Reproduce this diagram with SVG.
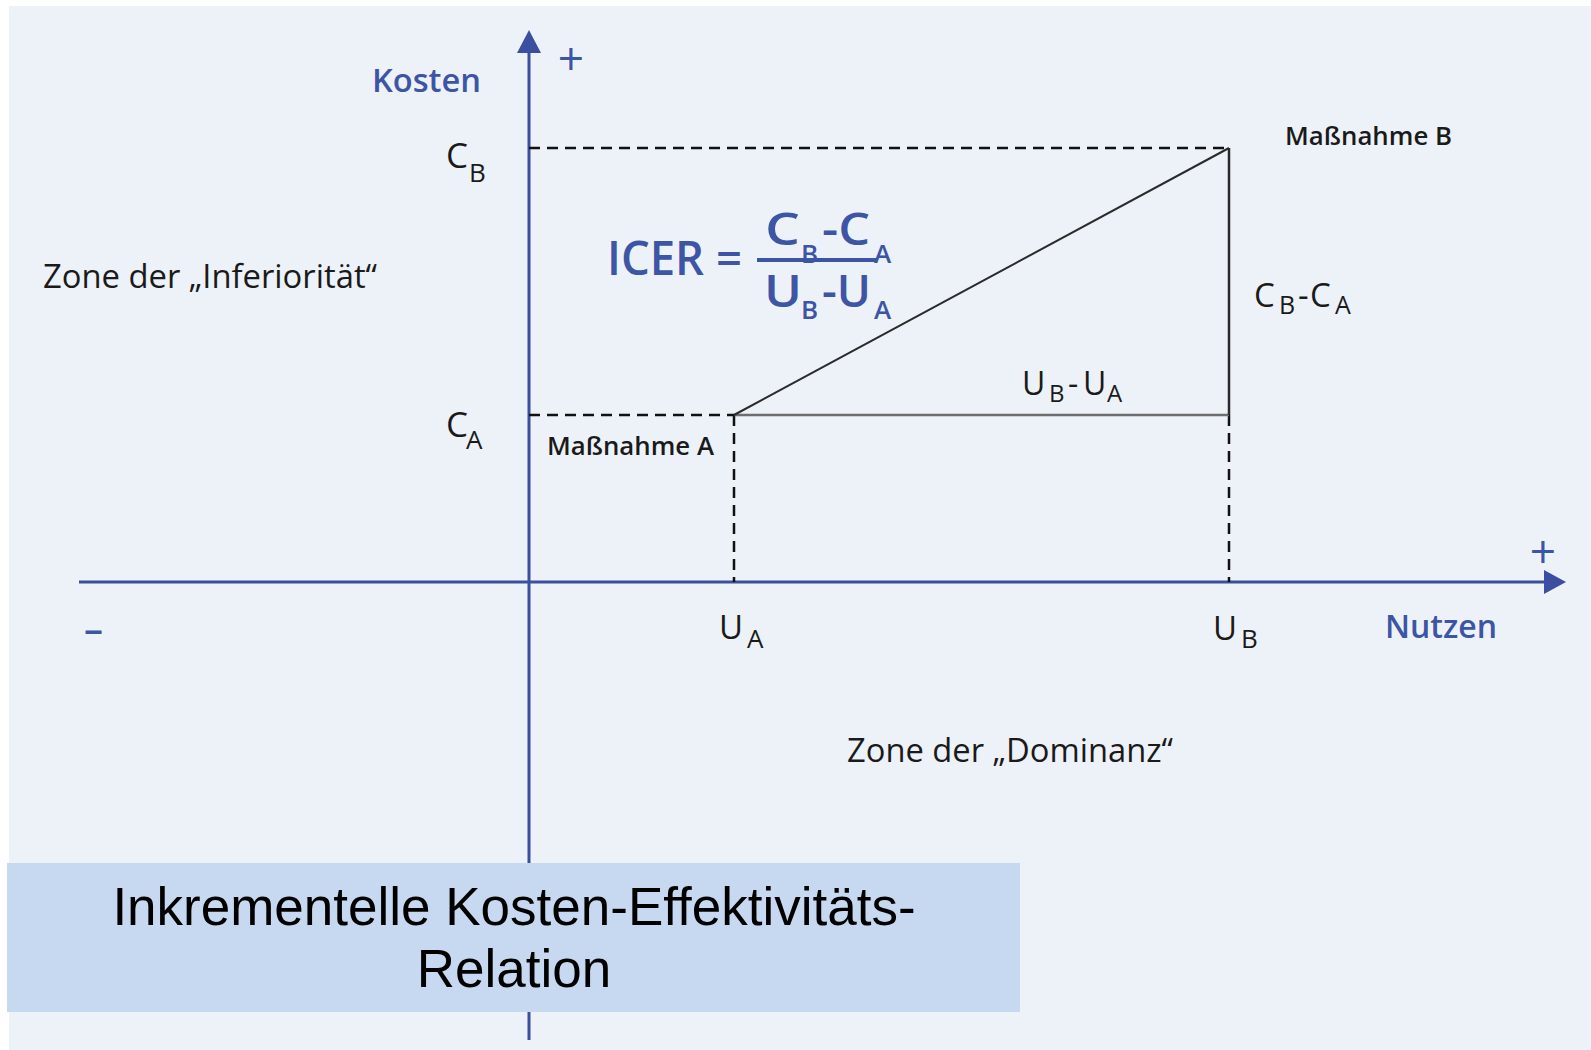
<svg xmlns="http://www.w3.org/2000/svg" width="1591" height="1050" viewBox="0 0 1591 1050">
<style>
.bg{fill:#EDF2F9}
.axis{stroke:#3B4EA0;stroke-width:3;fill:none}
.arrow{fill:#3B4EA0}
.dash{stroke:#111;stroke-width:2.5;stroke-dasharray:11 7;fill:none}
.solid{stroke:#2a2a2a;stroke-width:2;fill:none}
.gray{stroke:#6e6e6e;stroke-width:2.5;fill:none}
.t{font-family:"Open Sans","Liberation Sans",sans-serif;fill:#1a1a1a;font-weight:500}
.blue{fill:#3D55A5}
.sb{font-weight:600}
.cap{font-family:"Liberation Sans",Arial,sans-serif;font-size:53px;fill:#000;text-anchor:middle}
</style>
<rect class="bg" x="9" y="6" width="1582" height="1044"/>
<g id="connectors">
  <line class="axis" x1="529" y1="1040" x2="529" y2="50"/>
  <polygon class="arrow" points="529,30 541,53 517,53"/>
  <line class="axis" x1="79" y1="582" x2="1547" y2="582"/>
  <polygon class="arrow" points="1566,582 1544,570 1544,594"/>
  <line class="dash" x1="529" y1="148" x2="1229" y2="148"/>
  <line class="dash" x1="529" y1="415" x2="734" y2="415"/>
  <line class="dash" x1="734" y1="415" x2="734" y2="582"/>
  <line class="dash" x1="1229" y1="415" x2="1229" y2="582"/>
  <line class="gray" x1="734" y1="415" x2="1229" y2="415"/>
  <line class="solid" x1="1229" y1="148" x2="1229" y2="415" style="stroke-width:2.5"/>
  <line class="solid" x1="734" y1="415" x2="1229" y2="148"/>
</g>
<g id="axis-labels">
  <text class="t blue sb" x="372" y="92" font-size="32" textLength="109" lengthAdjust="spacingAndGlyphs">Kosten</text>
  <text class="t blue" x="571" y="75" font-size="46" text-anchor="middle" font-weight="400">+</text>
  <text class="t blue sb" x="1385" y="638" font-size="32" textLength="112" lengthAdjust="spacingAndGlyphs">Nutzen</text>
  <text class="t blue" x="1543" y="568" font-size="46" text-anchor="middle" font-weight="400">+</text>
  <text class="t blue sb" x="93.5" y="642" font-size="38" text-anchor="middle">–</text>
</g>
<g id="tick-CB">
  <text class="t" x="446" y="168" font-size="35">C</text>
  <text class="t" x="469" y="182" font-size="26">B</text>
</g>
<g id="tick-CA">
  <text class="t" x="446" y="437" font-size="35">C</text>
  <text class="t" x="466" y="449" font-size="26">A</text>
</g>
<g id="tick-UA">
  <text class="t" x="719" y="639" font-size="33">U</text>
  <text class="t" x="747" y="648" font-size="26">A</text>
</g>
<g id="tick-UB">
  <text class="t" x="1213" y="640" font-size="33">U</text>
  <text class="t" x="1241" y="648" font-size="26">B</text>
</g>
<g id="zone-inferior">
  <text class="t" x="43" y="288" font-size="33" textLength="334" lengthAdjust="spacingAndGlyphs" font-weight="400">Zone der „Inferiorität“</text>
</g>
<g id="zone-dominant">
  <text class="t" x="847" y="762" font-size="33" textLength="326" lengthAdjust="spacingAndGlyphs" font-weight="400">Zone der „Dominanz“</text>
</g>
<g id="massnahme-A">
  <text class="t sb" x="547" y="455" font-size="25" textLength="167" lengthAdjust="spacingAndGlyphs">Maßnahme A</text>
</g>
<g id="massnahme-B">
  <text class="t sb" x="1285" y="145" font-size="25" textLength="167" lengthAdjust="spacingAndGlyphs">Maßnahme B</text>
</g>
<g id="delta-C">
  <text class="t" x="1254" y="307" font-size="33">C</text>
  <text class="t" x="1279" y="314" font-size="25">B</text>
  <text class="t" x="1298" y="307" font-size="33">-</text>
  <text class="t" x="1310" y="307" font-size="33">C</text>
  <text class="t" x="1335" y="314" font-size="25">A</text>
</g>
<g id="delta-U">
  <text class="t" x="1022" y="395" font-size="32">U</text>
  <text class="t" x="1049" y="402" font-size="24">B</text>
  <text class="t" x="1068" y="395" font-size="32">-</text>
  <text class="t" x="1083" y="395" font-size="32">U</text>
  <text class="t" x="1107" y="402" font-size="24">A</text>
</g>
<g id="icer-formula">
  <text class="t blue sb" x="607" y="275" font-size="47" textLength="135" lengthAdjust="spacingAndGlyphs">ICER =</text>
  <rect class="blue" x="757" y="258" width="120" height="4"/>
  <text class="t blue sb" x="765" y="245" font-size="45" textLength="35" lengthAdjust="spacingAndGlyphs">C</text>
  <text class="t blue sb" x="801" y="263" font-size="26">B</text>
  <text class="t blue sb" x="822" y="245" font-size="45" textLength="48" lengthAdjust="spacingAndGlyphs">-C</text>
  <text class="t blue sb" x="874" y="263" font-size="26">A</text>
  <text class="t blue sb" x="764" y="307" font-size="45" textLength="38" lengthAdjust="spacingAndGlyphs">U</text>
  <text class="t blue sb" x="801" y="319" font-size="26">B</text>
  <text class="t blue sb" x="822" y="307" font-size="45" textLength="49" lengthAdjust="spacingAndGlyphs">-U</text>
  <text class="t blue sb" x="874" y="319" font-size="26">A</text>
</g>
<g id="caption">
  <rect x="7" y="863" width="1013" height="149" fill="#C6D9F0"/>
  <text class="cap" x="514" y="925">Inkrementelle Kosten-Effektivitäts-</text>
  <text class="cap" x="514" y="987">Relation</text>
</g>
</svg>
